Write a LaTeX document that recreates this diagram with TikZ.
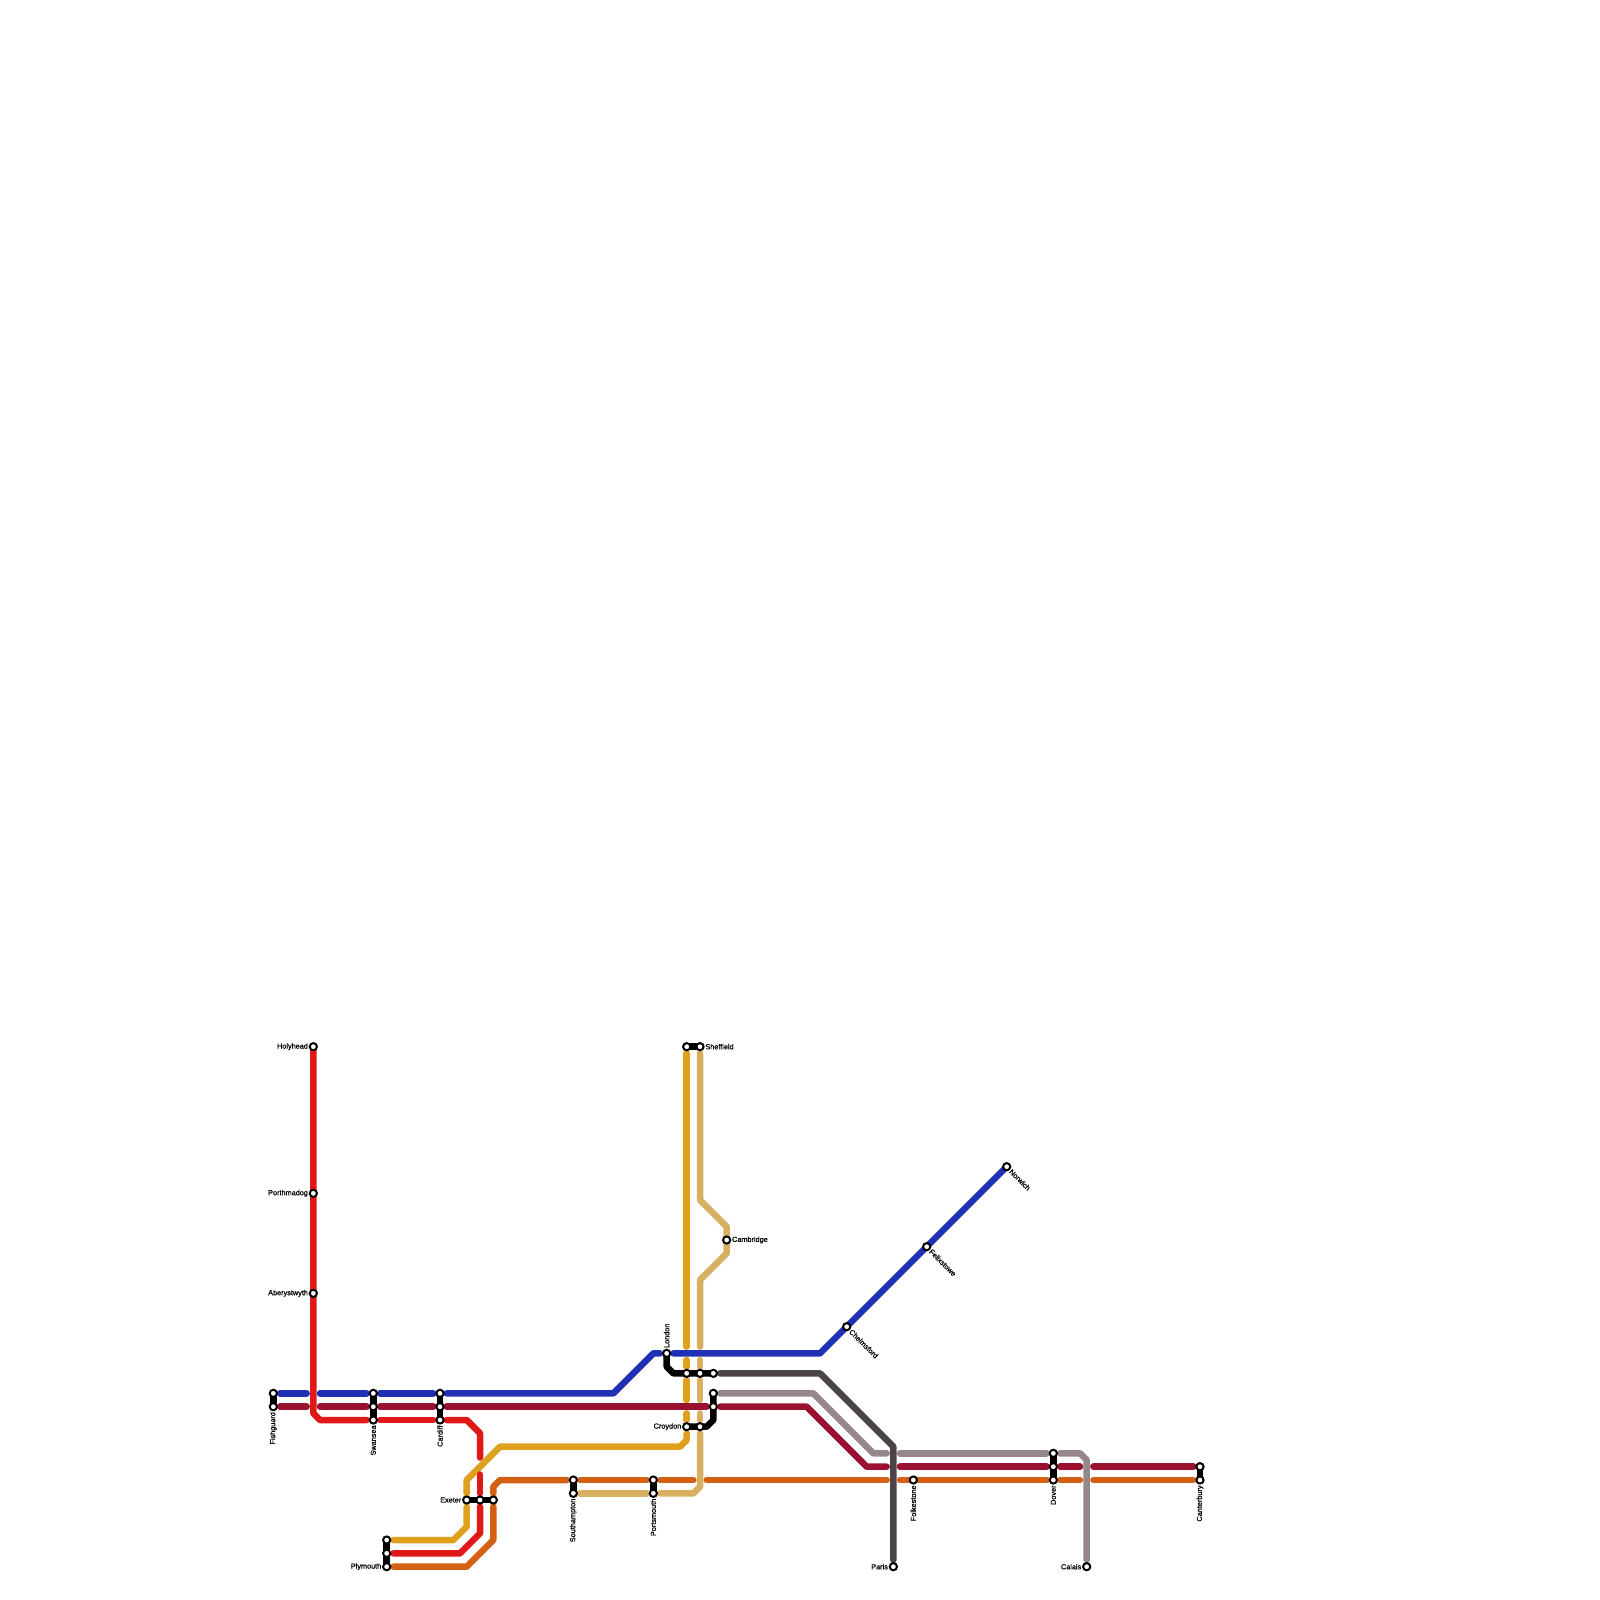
\documentclass[tikz,border=0pt]{standalone}
\usepackage{fontspec}
\setmainfont{Liberation Sans}[FakeBold=0.7]
\usetikzlibrary{backgrounds}
\definecolor{cblue}{HTML}{2030B4}
\definecolor{ccrimson}{HTML}{9A1230}
\definecolor{cred}{HTML}{E01818}
\definecolor{cgold}{HTML}{DFA11D}
\definecolor{corange}{HTML}{D36013}
\definecolor{ctan}{HTML}{D7B062}
\definecolor{cdark}{HTML}{4B4548}
\definecolor{cmauve}{HTML}{958789}
\tikzset{
  metro/.style={line width=3.25pt,line cap=round,line join=round},
  lblue/.style={metro,draw=cblue},
  lcrimson/.style={metro,draw=ccrimson},
  lred/.style={metro,draw=cred},
  lgold/.style={metro,draw=cgold},
  lorange/.style={metro,draw=corange},
  ltan/.style={metro,draw=ctan},
  ldark/.style={metro,draw=cdark},
  lmauve/.style={metro,draw=cmauve},
  link/.style={metro,draw=black},
  stn/.style={circle,draw=black,fill=white,line width=1pt,minimum size=3.6pt,inner sep=0pt},
  lab/.style={inner sep=0pt,text=black,font=\fontsize{3.65}{4.4}\selectfont},
}
\begin{document}
\begin{tikzpicture}[x=0.5pt,y=-0.5pt]
\useasboundingbox (0,0) rectangle (1600,1600);
% stations
\foreach \n/\x/\y in {
 holyhead/313.33/1046.67, porthmadog/313.33/1193.33, aberystwyth/313.33/1293.33,
 fishA/273.33/1393.33, fishB/273.33/1406.67,
 swanA/373.33/1393.33, swanB/373.33/1406.67, swanC/373.33/1420,
 cardA/440/1393.33, cardB/440/1406.67, cardC/440/1420,
 plymA/386.67/1540, plymB/386.67/1553.33, plymC/386.67/1566.67,
 exeA/466.67/1500, exeB/480/1500, exeC/493.33/1500,
 southA/573.33/1480, southB/573.33/1493.33,
 portsA/653.33/1480, portsB/653.33/1493.33,
 london/666.67/1353.33,
 midA/686.67/1373.33, midB/700/1373.33, midC/713.33/1373.33,
 mauvA/713.33/1393.33, mauvB/713.33/1406.67,
 croyA/686.67/1426.67, croyB/700/1426.67,
 sheffA/686.67/1046.67, sheffB/700/1046.67,
 cambridge/726.67/1240,
 chelmsford/846.67/1326.67, felixstowe/926.67/1246.67, norwich/1006.67/1166.67,
 paris/893.33/1566.67, folkestone/913.33/1480,
 doverA/1053.33/1453.33, doverB/1053.33/1466.67, doverC/1053.33/1480,
 calais/1086.67/1566.67,
 cantA/1200/1466.67, cantB/1200/1480}
 {\node[stn] (\n) at (\x,\y) {};}
% bends and free ends of the segments
\foreach \n/\x/\y in {
 b1/280/1393.33,b2/306.67/1393.33,b3/320/1393.33,b4/366.67/1393.33,b5/380/1393.33,b6/433.33/1393.33,
 b7/446.67/1393.33,b8/613.33/1393.33,b9/653.33/1353.33,b10/660/1353.33,b11/673.33/1353.33,b12/820/1353.33,
 c1/280/1406.67,c2/306.67/1406.67,c3/320/1406.67,c4/366.67/1406.67,c5/380/1406.67,c6/433.33/1406.67,
 c7/446.67/1406.67,c8/706.67/1406.67,c9/720/1406.67,c10/806.67/1406.67,c11/866.67/1466.67,c12/886.67/1466.67,
 c13/900/1466.67,c14/1046.67/1466.67,c15/1060/1466.67,c16/1080/1466.67,c17/1093.33/1466.67,c18/1193.33/1466.67,
 r1/313.33/1413.33,r2/320/1420,r3/366.67/1420,r4/380/1420,r5/433.33/1420,r6/446.67/1420,r7/466.67/1420,
 r8/480/1433.33,r9/480/1457.5,r10/480/1474.5,r11/480/1493.33,r12/480/1506.67,r13/480/1533.33,r14/460/1553.33,r15/393.33/1553.33,
 g1/686.67/1053.33,g2/686.67/1346.67,g3/686.67/1360,g4/686.67/1366.67,g5/686.67/1380,g6/686.67/1400,g7/686.67/1413.33,
 g8/686.67/1420,g9/686.67/1433.33,g10/686.67/1440,g11/680/1446.67,g12/500/1446.67,g13/466.67/1480,g14/466.67/1493.33,
 g15/466.67/1506.67,g16/466.67/1526.67,g17/453.33/1540,g18/393.33/1540,
 t1/700/1053.33,t2/700/1200,t3/726.67/1226.67,t4/726.67/1253.33,t5/700/1280,t6/700/1346.67,t7/700/1360,t8/700/1366.67,
 t9/700/1380,t10/700/1400,t11/700/1413.33,t12/700/1420,t13/700/1433.33,t14/700/1486.67,t15/693.33/1493.33,t16/660/1493.33,
 t17/646.67/1493.33,t18/580/1493.33,
 o1/393.33/1566.67,o2/466.67/1566.67,o3/493.33/1540,o4/493.33/1506.67,o5/493.33/1493.33,o6/493.33/1486.67,o7/500/1480,
 o8/566.67/1480,o9/580/1480,o10/646.67/1480,o11/660/1480,o12/693.33/1480,o13/706.67/1480,o14/886.67/1480,o15/900/1480,
 o16/1046.67/1480,o17/1060/1480,o18/1080/1480,o19/1093.33/1480,o20/1193.33/1480,
 d1/720/1373.33,d2/820/1373.33,d3/893.33/1446.67,d4/893.33/1560,
 m1/720/1393.33,m2/813.33/1393.33,m3/873.33/1453.33,m4/886.67/1453.33,m5/900/1453.33,m6/1046.67/1453.33,m7/1060/1453.33,
 m8/1080/1453.33,m9/1086.67/1460,m10/1086.67/1560,
 k1/666.67/1366.67,k2/673.33/1373.33,k3/713.33/1420,k4/706.67/1426.67}
 {\coordinate (\n) at (\x,\y);}
\begin{scope}[on background layer]
% blue
\draw[lblue] (b1)--(b2);
\draw[lblue] (b3)--(b4);
\draw[lblue] (b5)--(b6);
\draw[lblue] (b7)--(b8)--(b9)--(b10);
\draw[lblue] (b11)--(b12)--(norwich.center);
% mauve and dark
\draw[lmauve] (m1)--(m2)--(m3)--(m4);
\draw[lmauve] (m5)--(m6);
\draw[lmauve] (m7)--(m8)--(m9)--(m10);
\draw[ldark] (d1)--(d2)--(d3)--(d4);
% gold
\draw[lgold] (g1)--(g2);
\draw[lgold] (g3)--(g4);
\draw[lgold] (g5)--(g6);
\draw[lgold] (g7)--(g8);
\draw[lgold] (g9)--(g10)--(g11)--(g12)--(g13)--(g14);
\draw[lgold] (g15)--(g16)--(g17)--(g18);
% tan
\draw[ltan] (t1)--(t2)--(t3)--(t4)--(t5)--(t6);
\draw[ltan] (t7)--(t8);
\draw[ltan] (t9)--(t10);
\draw[ltan] (t11)--(t12);
\draw[ltan] (t13)--(t14)--(t15)--(t16);
\draw[ltan] (t17)--(t18);
% crimson
\draw[lcrimson] (c1)--(c2);
\draw[lcrimson] (c3)--(c4);
\draw[lcrimson] (c5)--(c6);
\draw[lcrimson] (c7)--(c8);
\draw[lcrimson] (c9)--(c10)--(c11)--(c12);
\draw[lcrimson] (c13)--(c14);
\draw[lcrimson] (c15)--(c16);
\draw[lcrimson] (c17)--(c18);
% orange
\draw[lorange] (o1)--(o2)--(o3)--(o4);
\draw[lorange] (o5)--(o6)--(o7)--(o8);
\draw[lorange] (o9)--(o10);
\draw[lorange] (o11)--(o12);
\draw[lorange] (o13)--(o14);
\draw[lorange] (o15)--(o16);
\draw[lorange] (o17)--(o18);
\draw[lorange] (o19)--(o20);
% red
\draw[lred] (holyhead.center)--(r1)--(r2)--(r3);
\draw[lred] (r4)--(r5);
\draw[lred] (r6)--(r7)--(r8)--(r9);
\draw[lred] (r10)--(r11);
\draw[lred] (r12)--(r13)--(r14)--(r15);
% interchange links
\draw[link] (fishA.center)--(fishB.center);
\draw[link] (swanA.center)--(swanC.center);
\draw[link] (cardA.center)--(cardC.center);
\draw[link] (plymA.center)--(plymC.center);
\draw[link] (exeA.center)--(exeC.center);
\draw[link] (southA.center)--(southB.center);
\draw[link] (portsA.center)--(portsB.center);
\draw[link] (london.center)--(k1)--(k2)--(midC.center);
\draw[link] (mauvA.center)--(k3)--(k4)--(croyA.center);
\draw[link] (sheffA.center)--(sheffB.center);
\draw[link] (doverA.center)--(doverC.center);
\draw[link] (cantA.center)--(cantB.center);
\end{scope}
% labels
\node[lab,anchor=east] (lholyhead) at ([xshift=-2.5pt]holyhead.center) {Holyhead};
\node[lab,anchor=east] (lporthmadog) at ([xshift=-2.5pt]porthmadog.center) {Porthmadog};
\node[lab,anchor=east] (laberystwyth) at ([xshift=-2.5pt]aberystwyth.center) {Aberystwyth};
\node[lab,anchor=east] (lexeter) at ([xshift=-2.5pt]exeA.center) {Exeter};
\node[lab,anchor=east] (lplymouth) at ([xshift=-2.5pt]plymC.center) {Plymouth};
\node[lab,anchor=east] (lcroydon) at ([xshift=-2.5pt]croyA.center) {Croydon};
\node[lab,anchor=east] (lparis) at ([xshift=-2.5pt]paris.center) {Paris};
\node[lab,anchor=east] (lcalais) at ([xshift=-2.5pt]calais.center) {Calais};
\node[lab,anchor=west] (lsheffield) at ([xshift=2.5pt]sheffB.center) {Sheffield};
\node[lab,anchor=west] (lcambridge) at ([xshift=2.5pt]cambridge.center) {Cambridge};
\node[lab,anchor=east,rotate=90] (lfishguard) at ([yshift=-2.5pt]fishB.center) {Fishguard};
\node[lab,anchor=east,rotate=90] (lswansea) at ([yshift=-2.5pt]swanC.center) {Swansea};
\node[lab,anchor=east,rotate=90] (lcardiff) at ([yshift=-2.5pt]cardC.center) {Cardiff};
\node[lab,anchor=east,rotate=90] (lsouthampton) at ([yshift=-2.5pt]southB.center) {Southampton};
\node[lab,anchor=east,rotate=90] (lportsmouth) at ([yshift=-2.5pt]portsB.center) {Portsmouth};
\node[lab,anchor=east,rotate=90] (lfolkestone) at ([yshift=-2.5pt]folkestone.center) {Folkestone};
\node[lab,anchor=east,rotate=90] (ldover) at ([yshift=-2.5pt]doverC.center) {Dover};
\node[lab,anchor=east,rotate=90] (lcanterbury) at ([yshift=-2.5pt]cantB.center) {Canterbury};
\node[lab,anchor=west,rotate=90] (llondon) at ([yshift=2.5pt]london.center) {London};
\node[lab,anchor=west,rotate=-45] (lchelmsford) at ([xshift=1.8pt,yshift=-1.8pt]chelmsford.center) {Chelmsford};
\node[lab,anchor=west,rotate=-45] (lfelixstowe) at ([xshift=1.8pt,yshift=-1.8pt]felixstowe.center) {Felixstowe};
\node[lab,anchor=west,rotate=-45] (lnorwich) at ([xshift=1.8pt,yshift=-1.8pt]norwich.center) {Norwich};
\end{tikzpicture}
\end{document}
